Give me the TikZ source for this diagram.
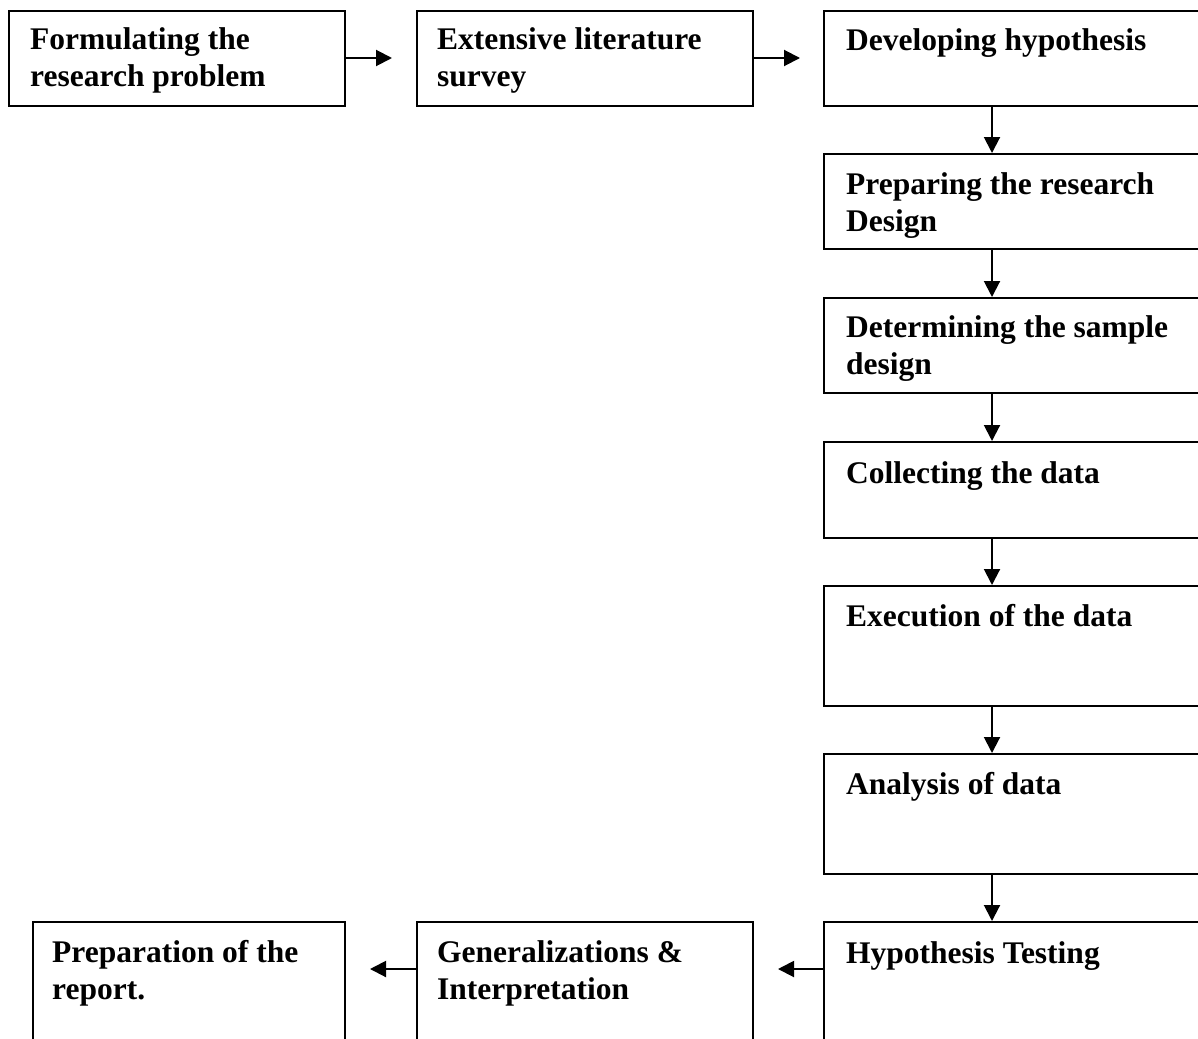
\documentclass[tikz,border=0pt]{standalone}
\usepackage{fontspec}
\setmainfont{Liberation Serif}
\usetikzlibrary{arrows.meta}
\tikzset{
  box/.style={draw, line width=2pt, rectangle, anchor=north west, inner sep=0pt, minimum width=#1},
  txt/.style={anchor=base west, inner sep=0pt, align=left, font=\fontsize{31.5pt}{37pt}\selectfont\bfseries},
  arr/.style={line width=2pt, -{Triangle[length=16pt,width=16pt]}}
}
\begin{document}
\begin{tikzpicture}[x=1pt,y=-1pt]
\useasboundingbox (0,0) rectangle (1198,1038);
\clip (0,0) rectangle (1198,1038);
% top row
\node[box=336pt, minimum height=95pt] (b1) at (8,10) {};
\node[box=336pt, minimum height=95pt] (b2) at (416,10) {};
% right column
\node[box=420pt, minimum height=95pt] (b3) at (823,10) {};
\node[box=420pt, minimum height=95pt] (b4) at (823,153) {};
\node[box=420pt, minimum height=95pt] (b5) at (823,297) {};
\node[box=420pt, minimum height=96pt] (b6) at (823,441) {};
\node[box=420pt, minimum height=120pt] (b7) at (823,585) {};
\node[box=420pt, minimum height=120pt] (b8) at (823,753) {};
\node[box=420pt, minimum height=150pt] (b9) at (823,921) {};
% bottom row
\node[box=336pt, minimum height=150pt] (b10) at (416,921) {};
\node[box=312pt, minimum height=150pt] (b11) at (32,921) {};
% texts (multi-line nodes are anchored at the baseline of their last line)
\node[txt] (t1) at (30,87) {Formulating the\\research problem};
\node[txt] (t2) at (437,87) {Extensive literature\\survey};
\node[txt] (t3) at (846,51) {Developing hypothesis};
\node[txt] (t4) at (846,231) {Preparing the research\\Design};
\node[txt] (t5) at (846,374) {Determining the sample\\design};
\node[txt] (t6) at (846,483) {Collecting the data};
\node[txt] (t7) at (846,626) {Execution of the data};
\node[txt] (t8) at (846,794) {Analysis of data};
\node[txt] (t9) at (846,963) {Hypothesis Testing};
\node[txt] (t10) at (437,999) {Generalizations \&\\Interpretation};
\node[txt] (t11) at (52,999) {Preparation of the\\report.};
% connectors
\draw[arr, shorten >=24pt] ([yshift=-48pt]b1.north east) -- ([yshift=-48pt]b2.north west);
\draw[arr, shorten >=23pt] ([yshift=-48pt]b2.north east) -- ([yshift=-48pt]b3.north west);
\foreach \a/\b in {b3/b4, b4/b5, b5/b6, b6/b7, b7/b8, b8/b9}{
  \draw[arr] ([xshift=169pt]\a.south west) -- ([xshift=169pt]\b.north west);
}
\draw[arr, shorten >=24pt] ([yshift=-48pt]b9.north west) -- ([yshift=-48pt]b10.north east);
\draw[arr, shorten >=24pt] ([yshift=-48pt]b10.north west) -- ([yshift=-48pt]b11.north east);
\end{tikzpicture}
\end{document}
